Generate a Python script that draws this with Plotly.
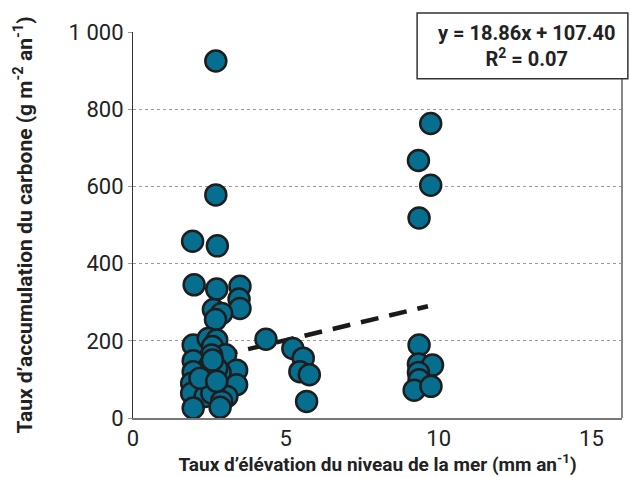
import plotly.graph_objects as go

# Sea-level rise rate (mm/yr) and carbon accumulation rate (g m-2 yr-1)
x_vals = [2.71, 2.71, 1.95, 2.76, 2.00, 2.74, 3.50, 3.47, 3.50, 2.63, 2.90, 2.70,
          1.97, 2.46, 2.74, 2.60, 3.03, 2.57, 1.97, 2.52, 1.97, 3.39, 2.41, 2.85,
          2.74, 1.92, 3.39, 2.30, 2.74, 1.92, 3.07, 2.36, 2.58, 2.90, 2.85, 1.97,
          2.19, 2.74, 2.60,
          4.35, 5.23, 5.57, 5.46, 5.77, 5.68,
          9.74, 9.34, 9.74, 9.36, 9.36, 9.34, 9.80, 9.34, 9.36, 9.20, 9.75]
y_vals = [925, 578, 458, 446, 345, 334, 341, 308, 284, 281, 271, 255,
          189, 206, 202, 185, 164, 163, 148, 137, 120, 124, 107, 118,
          129, 90, 86, 78, 84, 64, 56, 56, 64, 43, 28, 26,
          103, 95, 150,
          204, 180, 155, 120, 112, 43,
          763, 667, 603, 518, 189, 140, 137, 118, 99, 72, 82]

slope = 18.86
intercept = 107.40
r2 = 0.07
trend_x = [min(x_vals), 9.65]
trend_y = [slope * v + intercept for v in trend_x]

y_tickvals = [0, 200, 400, 600, 800, 1000]
y_ticktext = ["0", "200", "400", "600", "800", "1 000"]
x_tickvals = [0, 5, 10, 15]
x_ticktext = ["0", "5", "10", "15"]

FONT = "Roboto, Liberation Sans, sans-serif"

fig = go.Figure()
fig.add_trace(go.Scatter(
    x=trend_x, y=trend_y, mode="lines",
    line=dict(color="#1a1a1a", width=4.5, dash="18px,11px"),
    showlegend=False, hoverinfo="skip"))
fig.add_trace(go.Scatter(
    x=x_vals, y=y_vals, mode="markers",
    marker=dict(size=21, color="#066f8f", line=dict(color="#1e1e1e", width=2.5)),
    showlegend=False))

fig.update_layout(
    width=630, height=477,
    margin=dict(l=133, r=8, t=32, b=57),
    paper_bgcolor="white", plot_bgcolor="white",
    font=dict(family=FONT, color="#222"),
    xaxis=dict(range=[0, 16], tickvals=x_tickvals, ticktext=x_ticktext,
               showgrid=False, zeroline=False,
               showline=True, linecolor="#777", linewidth=2,
               ticks="", tickfont=dict(size=22, family=FONT, color="#222"),
               title=dict(text="<b>Taux d’élévation du niveau de la mer (mm an<sup>-1</sup>)</b>",
                          font=dict(size=19, family=FONT, color="#222"), standoff=4)),
    yaxis=dict(range=[0, 1000], tickvals=y_tickvals, ticktext=y_ticktext,
               showgrid=True, gridcolor="#9a9a9a", gridwidth=1, griddash="3px,3px",
               zeroline=False, showline=True, linecolor="#333", linewidth=1.2,
               ticks="outside", ticklen=4, tickcolor="#999",
               tickfont=dict(size=22, family=FONT, color="#222"),
               title=dict(text="<b>Taux d’accumulation du carbone (g m<sup>-2</sup> an<sup>-1</sup>)</b>",
                          font=dict(size=21, family=FONT, color="#222"), standoff=30)),
)

# right frame line below the equation box
fig.add_shape(type="line", xref="paper", yref="paper", x0=1, x1=1, y0=0, y1=0.879,
              line=dict(color="#888", width=2))
# equation box
fig.add_shape(type="rect", xref="paper", yref="paper", x0=0.581, x1=1.012, y0=0.879, y1=1.049,
              fillcolor="white", line=dict(color="#333", width=1.5), layer="above")
fig.add_annotation(xref="paper", yref="paper", x=0.805, y=0.964, showarrow=False,
                   text=f"<b>y = {slope:.2f}x + {intercept:.2f}</b><br><b>R<sup>2</sup> = {r2:.2f}</b>",
                   font=dict(size=20, family=FONT, color="#222"), align="center",
                   xanchor="center", yanchor="middle")

fig.write_html("out.html")
